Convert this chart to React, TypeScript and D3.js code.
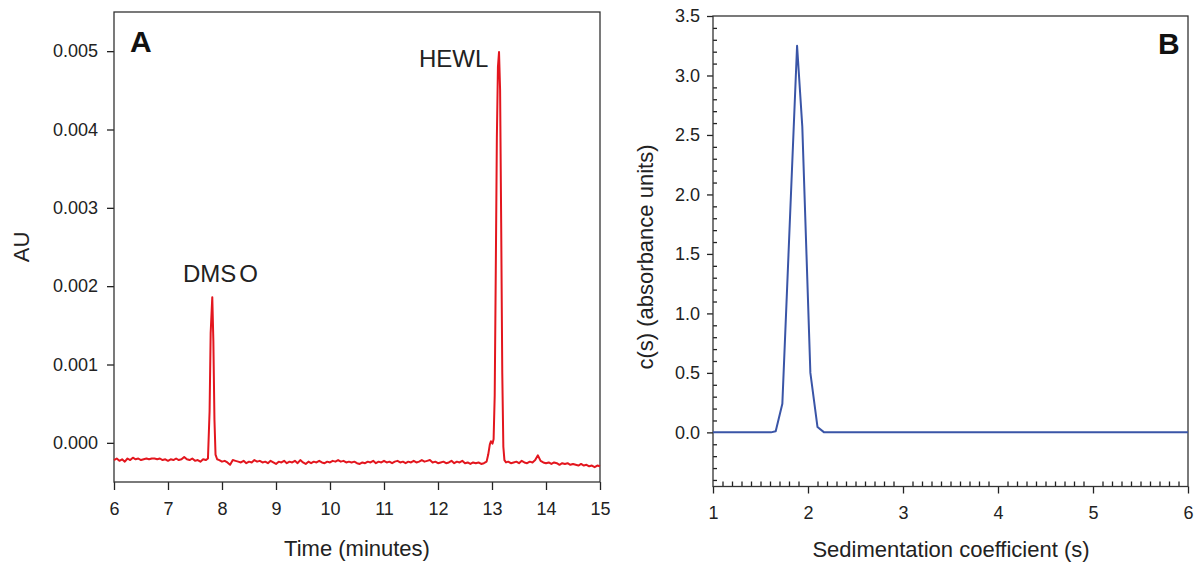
import React, { useRef, useEffect } from "react";
import * as d3 from "d3";

const WIDTH = 1197;
const HEIGHT = 562;

// Panel A: electropherogram, time (min) vs signal (mAU, converted to AU for plotting)
const timeMin = [
  6.0, 6.05, 6.1, 6.15, 6.2, 6.25, 6.3, 6.35, 6.4, 6.45, 6.5, 6.55, 6.6, 6.65, 6.7, 6.75, 6.8, 6.85, 6.9, 6.95,
  7.0, 7.05, 7.1, 7.15, 7.2, 7.25, 7.3, 7.35, 7.4, 7.45, 7.5, 7.55, 7.6, 7.65, 7.7,
  7.74, 7.77, 7.79, 7.82, 7.84, 7.86, 7.88, 7.91,
  7.95, 8.0, 8.05, 8.1, 8.15, 8.2, 8.25, 8.3, 8.35, 8.4, 8.45, 8.5, 8.55, 8.6, 8.65, 8.7, 8.75, 8.8, 8.85, 8.9, 8.95,
  9.0, 9.05, 9.1, 9.15, 9.2, 9.25, 9.3, 9.35, 9.4, 9.45, 9.5, 9.55, 9.6, 9.65, 9.7, 9.75, 9.8, 9.85, 9.9, 9.95,
  10.0, 10.05, 10.1, 10.15, 10.2, 10.25, 10.3, 10.35, 10.4, 10.45, 10.5, 10.55, 10.6, 10.65, 10.7, 10.75, 10.8, 10.85, 10.9, 10.95,
  11.0, 11.05, 11.1, 11.15, 11.2, 11.25, 11.3, 11.35, 11.4, 11.45, 11.5, 11.55, 11.6, 11.65, 11.7, 11.75, 11.8, 11.85, 11.9, 11.95,
  12.0, 12.05, 12.1, 12.15, 12.2, 12.25, 12.3, 12.35, 12.4, 12.45, 12.5, 12.55, 12.6, 12.65, 12.7, 12.75, 12.8, 12.85,
  12.9, 12.93, 12.96, 12.98, 13.01, 13.03, 13.05, 13.07, 13.09, 13.11, 13.13, 13.15, 13.17, 13.19, 13.21, 13.23, 13.26,
  13.3, 13.35, 13.4, 13.45, 13.5, 13.55, 13.6, 13.65, 13.7, 13.75, 13.8, 13.85, 13.9, 13.95,
  14.0, 14.05, 14.1, 14.15, 14.2, 14.25, 14.3, 14.35, 14.4, 14.45, 14.5, 14.55, 14.6, 14.65, 14.7, 14.75, 14.8, 14.85, 14.9, 14.95, 15.0,
];
const signalMAU = [
  -0.22, -0.2, -0.23, -0.21, -0.24, -0.2, -0.22, -0.19, -0.21, -0.2, -0.22, -0.21, -0.2, -0.21, -0.2, -0.2, -0.21, -0.2, -0.22, -0.21,
  -0.23, -0.21, -0.22, -0.2, -0.22, -0.21, -0.18, -0.21, -0.22, -0.2, -0.23, -0.22, -0.24, -0.21, -0.22,
  -0.2, 0.4, 1.4, 1.86, 1.3, 0.3, -0.15, -0.21,
  -0.22, -0.24, -0.23, -0.25, -0.28, -0.22, -0.23, -0.24, -0.25, -0.23, -0.26, -0.24, -0.25, -0.22, -0.24, -0.23, -0.25, -0.24, -0.26, -0.23, -0.25,
  -0.27, -0.24, -0.25, -0.23, -0.26, -0.24, -0.25, -0.23, -0.26, -0.22, -0.25, -0.27, -0.24, -0.26, -0.24, -0.25, -0.23, -0.25, -0.26, -0.24,
  -0.25, -0.23, -0.24, -0.22, -0.24, -0.23, -0.25, -0.24, -0.25, -0.24, -0.26, -0.27, -0.25, -0.26, -0.24, -0.25, -0.23, -0.26, -0.24, -0.25,
  -0.23, -0.25, -0.24, -0.26, -0.24, -0.23, -0.25, -0.24, -0.26, -0.24, -0.25, -0.23, -0.25, -0.24, -0.22, -0.24, -0.23, -0.22, -0.25, -0.24,
  -0.26, -0.25, -0.24, -0.26, -0.25, -0.23, -0.26, -0.24, -0.25, -0.23, -0.26, -0.25, -0.27, -0.25, -0.26, -0.25, -0.27, -0.26,
  -0.24, -0.15, -0.02, 0.02, -0.01, 0.05, 0.6, 2.2, 3.9, 4.8, 4.99, 4.5, 2.8, 0.9, -0.05, -0.22, -0.25,
  -0.24, -0.26, -0.25, -0.24, -0.26, -0.23, -0.25, -0.26, -0.24, -0.25, -0.22, -0.16, -0.23, -0.25,
  -0.26, -0.25, -0.27, -0.25, -0.26, -0.28, -0.26, -0.27, -0.26, -0.28, -0.27, -0.28, -0.29, -0.27, -0.29, -0.28, -0.3, -0.29, -0.31, -0.29, -0.3,
];
const timeTicks = [6, 7, 8, 9, 10, 11, 12, 13, 14, 15];
const auTicks = [0, 0.001, 0.002, 0.003, 0.004, 0.005];

// Panel B: c(s) distribution
const sedCoeff = [1.0, 1.61, 1.66, 1.73, 1.885, 1.94, 2.025, 2.1, 2.17, 6.0];
const cOfS = [0, 0, 0.01, 0.24, 3.25, 2.57, 0.5, 0.045, 0, 0];
const sTicks = [1, 2, 3, 4, 5, 6];
const cTicks = [0, 0.5, 1, 1.5, 2, 2.5, 3, 3.5];

const FONT = "'Liberation Sans', Arial, Helvetica, sans-serif";
const INK = "#222";

const App = () => {
  const svgRef = useRef<SVGSVGElement>(null);

  useEffect(() => {
    const svg = d3.select(svgRef.current);
    svg.selectAll("*").remove();

    const styleAxis = (g: any) => {
      g.attr("font-family", FONT).attr("font-size", 18);
      g.selectAll(".domain").remove();
      g.selectAll(".tick line").attr("stroke", INK).attr("stroke-width", 1.3);
      g.selectAll(".tick text").attr("fill", INK);
    };

    // ---------- Panel A ----------
    const a = { left: 114, right: 600, top: 12, bottom: 482 };
    const xA = d3.scaleLinear().domain([6, 15]).range([a.left, a.right]);
    const yA = d3.scaleLinear().domain([-0.0005, 0.0055]).range([a.bottom, a.top]);

    svg
      .append("g")
      .attr("transform", `translate(0,${a.bottom})`)
      .call(d3.axisBottom(xA).tickValues(timeTicks).tickSize(8).tickFormat(d3.format("d")))
      .call(styleAxis)
      .call((g: any) => g.selectAll(".tick text").attr("y", 33).attr("dy", 0));

    svg
      .append("g")
      .attr("transform", `translate(${a.left},0)`)
      .call(d3.axisLeft(yA).tickValues(auTicks).tickSize(7).tickPadding(9).tickFormat(d3.format(".3f")))
      .call(styleAxis);

    svg
      .append("rect")
      .attr("x", a.left)
      .attr("y", a.top)
      .attr("width", a.right - a.left)
      .attr("height", a.bottom - a.top)
      .attr("fill", "none")
      .attr("stroke", "#333")
      .attr("stroke-width", 1.3);

    const traceA = timeMin.map((t, i) => ({ t, v: signalMAU[i] / 1000 }));
    const lineA = d3
      .line<{ t: number; v: number }>()
      .x((d) => xA(d.t))
      .y((d) => yA(d.v));

    svg
      .append("path")
      .datum(traceA)
      .attr("d", lineA)
      .attr("fill", "none")
      .attr("stroke", "#e3161e")
      .attr("stroke-width", 2)
      .attr("stroke-linejoin", "round");

    svg
      .append("text")
      .attr("x", 130)
      .attr("y", 52)
      .attr("font-family", FONT)
      .attr("font-size", 30)
      .attr("font-weight", "bold")
      .attr("fill", "#111")
      .text("A");

    svg
      .append("text")
      .attr("x", 419)
      .attr("y", 67)
      .attr("font-family", FONT)
      .attr("font-size", 24)
      .attr("fill", INK)
      .text("HEWL");

    const dmso = svg
      .append("text")
      .attr("x", 183)
      .attr("y", 282)
      .attr("font-family", FONT)
      .attr("font-size", 24)
      .attr("fill", INK);
    dmso.append("tspan").text("DMS");
    dmso.append("tspan").attr("dx", 3).text("O");

    svg
      .append("text")
      .attr("text-anchor", "middle")
      .attr("x", (a.left + a.right) / 2)
      .attr("y", 556)
      .attr("font-family", FONT)
      .attr("font-size", 22)
      .attr("fill", INK)
      .text("Time (minutes)");

    svg
      .append("text")
      .attr("text-anchor", "middle")
      .attr("transform", `translate(29, ${(a.top + a.bottom) / 2}) rotate(-90)`)
      .attr("font-family", FONT)
      .attr("font-size", 22)
      .attr("fill", INK)
      .text("AU");

    // ---------- Panel B ----------
    const b = { left: 713, right: 1188, top: 16, bottom: 486.5 };
    const xB = d3.scaleLinear().domain([1, 6]).range([b.left, b.right]);
    const yB = d3.scaleLinear().domain([-0.455, 3.5]).range([b.bottom, b.top]);

    const minorS = d3.range(11, 60).filter((i) => i % 10 !== 0).map((i) => i / 10);
    const minorC = d3.range(-4, 35).filter((i) => i % 5 !== 0).map((i) => i / 10);

    svg
      .append("g")
      .attr("transform", `translate(0,${b.bottom})`)
      .call(d3.axisBottom(xB).tickValues(minorS).tickSize(-5).tickFormat(() => ""))
      .call(styleAxis);

    svg
      .append("g")
      .attr("transform", `translate(0,${b.bottom})`)
      .call(d3.axisBottom(xB).tickValues(sTicks).tickSize(7).tickFormat(d3.format("d")))
      .call(styleAxis)
      .call((g: any) => g.selectAll(".tick text").attr("y", 32).attr("dy", 0));

    svg
      .append("g")
      .attr("transform", `translate(${b.left},0)`)
      .call(d3.axisLeft(yB).tickValues(minorC).tickSize(-4).tickFormat(() => ""))
      .call(styleAxis);

    svg
      .append("g")
      .attr("transform", `translate(${b.left},0)`)
      .call(d3.axisLeft(yB).tickValues(cTicks).tickSize(6).tickPadding(7).tickFormat(d3.format(".1f")))
      .call(styleAxis);

    svg
      .append("rect")
      .attr("x", b.left)
      .attr("y", b.top)
      .attr("width", b.right - b.left)
      .attr("height", b.bottom - b.top)
      .attr("fill", "none")
      .attr("stroke", "#333")
      .attr("stroke-width", 1.3);

    const traceB = sedCoeff.map((s, i) => ({ s, c: cOfS[i] }));
    const lineB = d3
      .line<{ s: number; c: number }>()
      .x((d) => xB(d.s))
      .y((d) => yB(d.c));

    svg
      .append("path")
      .datum(traceB)
      .attr("d", lineB)
      .attr("fill", "none")
      .attr("stroke", "#3a55a7")
      .attr("stroke-width", 2)
      .attr("stroke-linejoin", "round");

    svg
      .append("text")
      .attr("x", 1158)
      .attr("y", 54)
      .attr("font-family", FONT)
      .attr("font-size", 30)
      .attr("font-weight", "bold")
      .attr("fill", "#111")
      .text("B");

    svg
      .append("text")
      .attr("text-anchor", "middle")
      .attr("x", (b.left + b.right) / 2 + 0.5)
      .attr("y", 557)
      .attr("font-family", FONT)
      .attr("font-size", 22)
      .attr("fill", INK)
      .text("Sedimentation coefficient (s)");

    svg
      .append("text")
      .attr("text-anchor", "middle")
      .attr("transform", `translate(653, 257) rotate(-90)`)
      .attr("font-family", FONT)
      .attr("font-size", 22)
      .attr("fill", INK)
      .text("c(s) (absorbance units)");
  }, []);

  return (
    <svg
      ref={svgRef}
      width={WIDTH}
      height={HEIGHT}
      style={{ position: "absolute", left: 0, top: 0, background: "#fff" }}
    />
  );
};

export default App;
